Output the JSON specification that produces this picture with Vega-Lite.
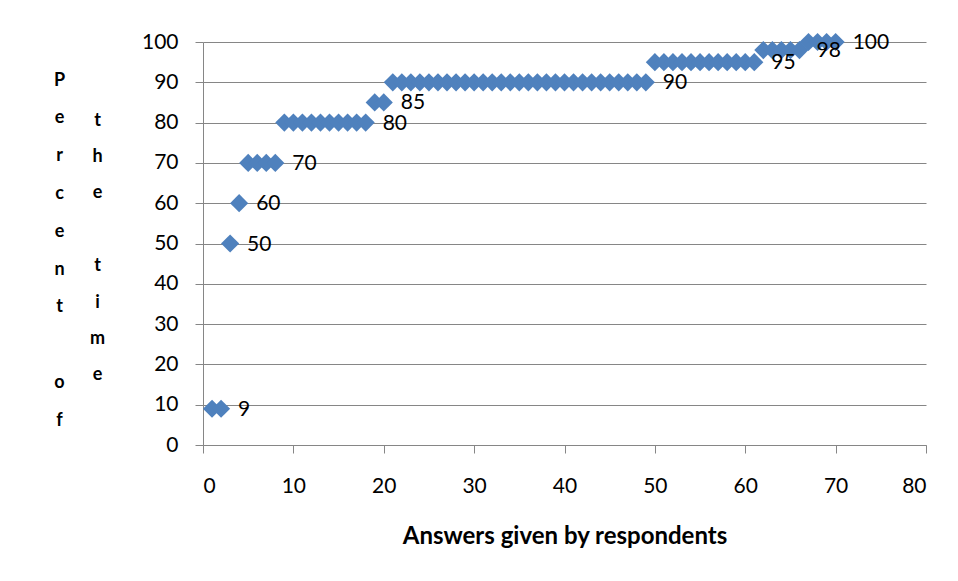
{
  "$schema": "https://vega.github.io/schema/vega-lite/v6.json",
  "width": 723,
  "height": 403,
  "autosize": {"type": "none"},
  "padding": {"left": 203, "top": 42, "right": 32, "bottom": 136},
  "background": "white",
  "config": {
    "view": {"stroke": null},
    "font": "Lato"
  },
  "data": {
    "values": [
      {"x": 1, "y": 9}, {"x": 2, "y": 9, "label": "9"},
      {"x": 3, "y": 50, "label": "50"},
      {"x": 4, "y": 60, "label": "60"},
      {"x": 5, "y": 70}, {"x": 6, "y": 70}, {"x": 7, "y": 70}, {"x": 8, "y": 70, "label": "70"},
      {"x": 9, "y": 80}, {"x": 10, "y": 80}, {"x": 11, "y": 80}, {"x": 12, "y": 80}, {"x": 13, "y": 80},
      {"x": 14, "y": 80}, {"x": 15, "y": 80}, {"x": 16, "y": 80}, {"x": 17, "y": 80}, {"x": 18, "y": 80, "label": "80"},
      {"x": 19, "y": 85}, {"x": 20, "y": 85, "label": "85"},
      {"x": 21, "y": 90}, {"x": 22, "y": 90}, {"x": 23, "y": 90}, {"x": 24, "y": 90}, {"x": 25, "y": 90},
      {"x": 26, "y": 90}, {"x": 27, "y": 90}, {"x": 28, "y": 90}, {"x": 29, "y": 90}, {"x": 30, "y": 90},
      {"x": 31, "y": 90}, {"x": 32, "y": 90}, {"x": 33, "y": 90}, {"x": 34, "y": 90}, {"x": 35, "y": 90},
      {"x": 36, "y": 90}, {"x": 37, "y": 90}, {"x": 38, "y": 90}, {"x": 39, "y": 90}, {"x": 40, "y": 90},
      {"x": 41, "y": 90}, {"x": 42, "y": 90}, {"x": 43, "y": 90}, {"x": 44, "y": 90}, {"x": 45, "y": 90},
      {"x": 46, "y": 90}, {"x": 47, "y": 90}, {"x": 48, "y": 90}, {"x": 49, "y": 90, "label": "90"},
      {"x": 50, "y": 95}, {"x": 51, "y": 95}, {"x": 52, "y": 95}, {"x": 53, "y": 95}, {"x": 54, "y": 95},
      {"x": 55, "y": 95}, {"x": 56, "y": 95}, {"x": 57, "y": 95}, {"x": 58, "y": 95}, {"x": 59, "y": 95},
      {"x": 60, "y": 95}, {"x": 61, "y": 95, "label": "95"},
      {"x": 62, "y": 98}, {"x": 63, "y": 98}, {"x": 64, "y": 98}, {"x": 65, "y": 98}, {"x": 66, "y": 98, "label": "98"},
      {"x": 67, "y": 100}, {"x": 68, "y": 100}, {"x": 69, "y": 100}, {"x": 70, "y": 100, "label": "100"}
    ]
  },
  "encoding": {
    "x": {
      "field": "x",
      "type": "quantitative",
      "scale": {"domain": [0, 80], "nice": false, "zero": true},
      "axis": {
        "values": [0, 10, 20, 30, 40, 50, 60, 70, 80],
        "grid": false,
        "domainColor": "#868686",
        "tickColor": "#868686",
        "tickSize": 8,
        "labelFontSize": 21,
        "labelColor": "#000000",
        "labelPadding": 22,
        "labelFont": "Lato",
        "title": "Answers given by respondents",
        "titleFont": "Lato",
        "titleFontSize": 24,
        "titleFontWeight": "bold",
        "titleColor": "#000000",
        "titleBaseline": "top",
        "titleY": 79
      }
    }
  },
  "layer": [
    {
      "mark": {"type": "point", "shape": "diamond", "filled": true, "size": 330, "opacity": 1, "color": "#4F81BD"},
      "encoding": {
        "y": {
          "field": "y",
          "type": "quantitative",
          "scale": {"domain": [0, 100], "nice": false},
          "axis": {
            "values": [0, 10, 20, 30, 40, 50, 60, 70, 80, 90, 100],
            "grid": true,
            "gridColor": "#868686",
            "gridOpacity": 1,
            "domainColor": "#868686",
            "tickColor": "#868686",
            "tickSize": 8,
            "labelFontSize": 21,
            "labelColor": "#000000",
            "labelPadding": 17,
            "labelFont": "Lato",
            "title": ["P", "e", "r", "c", "e", "n", "t", "\u200b", "o", "f"],
            "titleFont": "Lato",
            "titleFontSize": 18,
            "titleFontWeight": "bold",
            "titleColor": "#000000",
            "titleAngle": 0,
            "titleAlign": "center",
            "titleBaseline": "top",
            "titleLineHeight": 37.8,
            "titleX": -144,
            "titleY": 29
          }
        }
      }
    },
    {
      "transform": [{"filter": "datum.label != null"}],
      "mark": {"type": "text", "align": "left", "baseline": "middle", "dx": 17, "dy": 1, "fontSize": 21, "font": "Lato", "color": "#000000"},
      "encoding": {
        "y": {
          "field": "y",
          "type": "quantitative",
          "scale": {"domain": [0, 100], "nice": false},
          "axis": {
            "orient": "left",
            "labels": false,
            "ticks": false,
            "domain": false,
            "grid": false,
            "title": ["t", "h", "e", "\u200b", "t", "i", "m", "e"],
            "titleFont": "Lato",
            "titleFontSize": 18,
            "titleFontWeight": "bold",
            "titleColor": "#000000",
            "titleAngle": 0,
            "titleAlign": "center",
            "titleBaseline": "top",
            "titleLineHeight": 36.4,
            "titleX": -106,
            "titleY": 69
          }
        },
        "text": {"field": "label", "type": "nominal"}
      }
    }
  ],
  "resolve": {"axis": {"y": "independent"}}
}
